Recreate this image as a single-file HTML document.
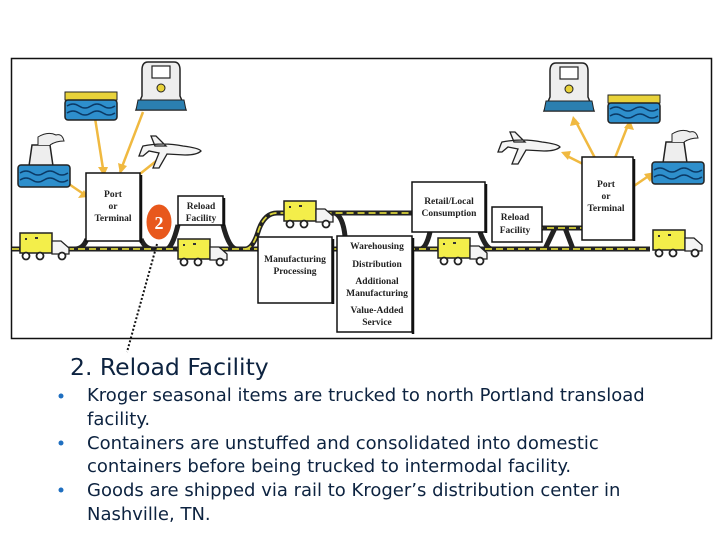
<!DOCTYPE html>
<html><head><meta charset="utf-8"><style>
html,body{margin:0;padding:0;background:#fff;width:720px;height:540px;overflow:hidden}
svg{position:absolute;left:0;top:0}
.t{font-family:"Liberation Serif",serif;font-size:9.5px;font-weight:bold;fill:#222;text-anchor:middle}
.txt{position:absolute;font-family:"DejaVu Sans","Liberation Sans",sans-serif;color:#0d2340;white-space:nowrap}
</style></head><body>
<svg width="720" height="540" viewBox="0 0 720 540">
<defs>
<g id="truck">
<rect x="0" y="0" width="32" height="20" fill="#f3ee4a" stroke="#222" stroke-width="1.5"/>
<path d="M32 8 h9 l8 7 v6 h-17z" fill="#f4f4f4" stroke="#222" stroke-width="1.3"/>
<circle cx="6" cy="23" r="3.5" fill="#fff" stroke="#222" stroke-width="1.8"/>
<circle cx="20" cy="23" r="3.5" fill="#fff" stroke="#222" stroke-width="1.8"/>
<circle cx="42" cy="23" r="3.5" fill="#fff" stroke="#222" stroke-width="1.8"/>
<rect x="5" y="5" width="2" height="2" fill="#333"/><rect x="15" y="4" width="3" height="2" fill="#333"/>
</g>
<g id="train">
<path d="M6 0 h26 q6 0 6 8 v26 l6 14 h-50 l6 -14 v-26 q0 -8 6 -8z" fill="#eee" stroke="#222" stroke-width="1.5"/>
<rect x="10" y="4" width="18" height="12" fill="#fff" stroke="#222" stroke-width="1.2"/>
<circle cx="19" cy="26" r="4" fill="#e8d23a" stroke="#222"/>
<path d="M-4 38 h46 l2 10 h-50z" fill="#2b7fb0" stroke="#222"/>
</g>
<g id="ferry">
<rect x="0" y="0" width="52" height="8" fill="#e8d23a" stroke="#222"/>
<rect x="0" y="8" width="52" height="20" rx="3" fill="#2e8fcc" stroke="#222" stroke-width="1.5"/>
<path d="M2 14 q6 -4 12 0 t12 0 t12 0 t12 0 M2 21 q6 -4 12 0 t12 0 t12 0 t12 0" fill="none" stroke="#0b3a66" stroke-width="1.5"/>
</g>
<g id="ship">
<path d="M14 10 h18 l4 28 h-26z" fill="#eee" stroke="#222" stroke-width="1.5"/>
<path d="M20 10 v-8 q10 -6 18 -2 q6 -2 8 6 q-8 0 -14 4" fill="#eee" stroke="#222"/>
<rect x="0" y="30" width="52" height="22" rx="3" fill="#2e8fcc" stroke="#222" stroke-width="1.5"/>
<path d="M2 38 q6 -4 12 0 t12 0 t12 0 t12 0 M2 45 q6 -4 12 0 t12 0 t12 0 t12 0" fill="none" stroke="#0b3a66" stroke-width="1.5"/>
</g>
<g id="plane">
<path d="M0 10 q20 -4 40 0 q16 2 18 5 q-4 4 -16 4 l-18 -1 l-8 14 h-6 l6 -15 l-10 -2 l-6 5 h-4 l3 -8z M12 10 l-4 -10 h5 l10 10z" fill="#f4f4f4" stroke="#222" stroke-width="1.3"/>
</g>
</defs>
<rect x="11.5" y="58.5" width="700" height="280" fill="#fff" stroke="#111" stroke-width="1.5"/>

<g fill="none" stroke-linejoin="round">
<g stroke="#222" stroke-width="5">
<path d="M12 249 H650"/>
<path d="M75 249 q8 0 12 -10"/><path d="M141 239 q4 10 12 10"/>
<path d="M166 249 q6 0 12 -24 M223 225 q6 24 14 24"/>
<path d="M245 249 q8 0 14 -20 q6 -16 18 -16 H412"/>
<path d="M335 213 q8 4 10 23"/>
<path d="M420 249 q6 0 10 -17 M480 232 q6 17 12 17"/>
<path d="M492 228 H582 M555 228 l-10 21 M565 228 l8 21"/>
</g>
<g stroke="#d9d23a" stroke-width="1.8" stroke-dasharray="7 4">
<path d="M12 249 H650"/>
<path d="M245 249 q8 0 14 -20 q6 -16 18 -16 H412"/>
<path d="M492 228 H582"/>
</g>
</g>

<g stroke="#f0b940" stroke-width="2.5" fill="#f0b940">
<line x1="60" y1="178" x2="88" y2="197"/><line x1="95" y1="118" x2="104" y2="175"/>
<line x1="143" y1="112" x2="120" y2="172"/><line x1="160" y1="158" x2="131" y2="181"/>
<line x1="595" y1="158" x2="575" y2="120"/><line x1="615" y1="158" x2="628" y2="125"/>
<line x1="585" y1="165" x2="565" y2="155"/><line x1="628" y1="190" x2="650" y2="175"/>
</g>
<g fill="#f0b940">
<polygon points="88,197 78,198 84,190"/><polygon points="104,176 98,167 108,167"/>
<polygon points="120,174 118,163 127,166"/><polygon points="129,183 133,173 139,180"/>
<polygon points="573,116 580,124 570,126"/><polygon points="630,120 634,130 624,128"/>
<polygon points="561,152 571,151 568,160"/><polygon points="655,172 650,182 644,174"/>
</g>

<use href="#ship" x="18" y="135"/><use href="#ferry" x="65" y="92"/><use href="#train" x="142" y="62"/><use href="#plane" x="143" y="136"/>
<use href="#train" x="550" y="63"/><use href="#ferry" x="608" y="95"/><use href="#plane" x="502" y="132"/><use href="#ship" x="652" y="132"/>

<use href="#truck" x="20" y="233"/><use href="#truck" x="178" y="239"/><use href="#truck" x="284" y="201"/>
<use href="#truck" x="438" y="238"/><use href="#truck" x="653" y="230"/>

<g fill="#fff" stroke="#111" stroke-width="1.5">
<rect x="86" y="173" width="54" height="68"/>
<rect x="178" y="196" width="45" height="29"/>
<rect x="258" y="237" width="74" height="66"/>
<rect x="337" y="236" width="75" height="96"/>
<rect x="412" y="182" width="73" height="50"/>
<rect x="492" y="207" width="50" height="35"/>
<rect x="582" y="157" width="51" height="83"/>
</g>
<g stroke="#111" stroke-width="2.5"><line x1="141" y1="175" x2="141" y2="243"/><line x1="333" y1="239" x2="333" y2="304"/><line x1="413" y1="238" x2="413" y2="334"/><line x1="486" y1="184" x2="486" y2="233"/><line x1="634" y1="159" x2="634" y2="241"/><line x1="224" y1="198" x2="224" y2="226"/></g>
<text class="t" x="113" y="197">Port</text><text class="t" x="113" y="209">or</text><text class="t" x="113" y="221">Terminal</text>
<text class="t" x="201" y="209">Reload</text><text class="t" x="201" y="221">Facility</text>
<text class="t" x="295" y="262">Manufacturing</text><text class="t" x="295" y="274">Processing</text>
<text class="t" x="377" y="249">Warehousing</text><text class="t" x="377" y="267">Distribution</text><text class="t" x="377" y="284">Additional</text><text class="t" x="377" y="296">Manufacturing</text><text class="t" x="377" y="313">Value-Added</text><text class="t" x="377" y="325">Service</text>
<text class="t" x="449" y="204">Retail/Local</text><text class="t" x="449" y="216">Consumption</text>
<text class="t" x="515" y="220">Reload</text><text class="t" x="515" y="233">Facility</text>
<text class="t" x="606" y="187">Port</text><text class="t" x="606" y="199">or</text><text class="t" x="606" y="211">Terminal</text>

<ellipse cx="159" cy="222" rx="13" ry="18" fill="#e8581c" stroke="#fff" stroke-width="1"/>
<text x="159" y="229" font-family="Liberation Serif,serif" font-weight="bold" font-size="18" fill="#fff" text-anchor="middle">2</text>
<line x1="157" y1="244" x2="127" y2="352" stroke="#111" stroke-width="2" stroke-dasharray="2 2"/>

<g fill="#1f6fc0"><circle cx="61" cy="396" r="2.5"/><circle cx="61" cy="443" r="2.5"/><circle cx="61" cy="490" r="2.5"/></g>
</svg>
<div class="txt" style="left:70px;top:353px;font-size:23.5px">2. Reload Facility</div>
<div class="txt" style="left:87px;top:384px;font-size:18px;line-height:23.8px;width:630px">Kroger seasonal items are trucked to north Portland transload<br>facility.<br>Containers are unstuffed and consolidated into domestic<br>containers before being trucked to intermodal facility.<br>Goods are shipped via rail to Kroger’s distribution center in<br>Nashville, TN.</div>
</body></html>
